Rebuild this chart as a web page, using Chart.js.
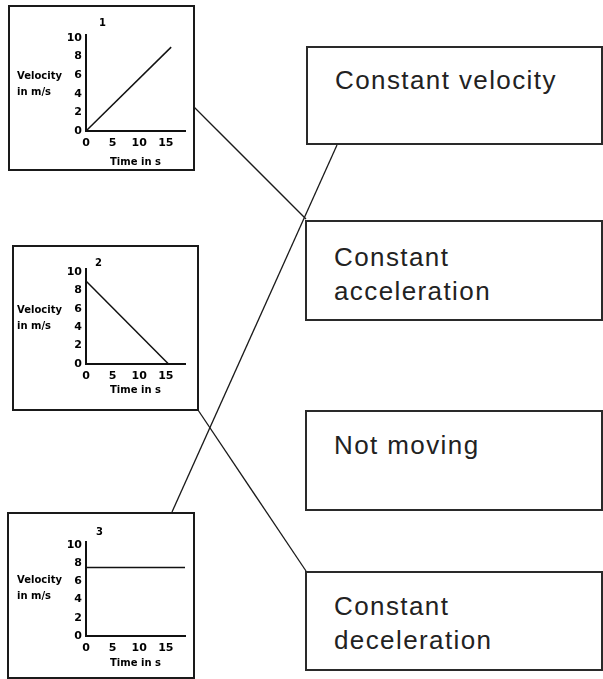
<!DOCTYPE html>
<html>
<head>
<meta charset="utf-8">
<script src="https://cdn.jsdelivr.net/npm/chart.js@4/dist/chart.umd.min.js"></script>
<style>
  body { margin: 0; background: #fff; }
  #page { position: relative; width: 603px; height: 679px; overflow: hidden; }
  .frame { position: absolute; border: 2px solid #1a1a1a; box-sizing: border-box; }
  .answer { position: absolute; border: 2px solid #2a2a2a; box-sizing: border-box; }
  .answer span {
    position: absolute; left: 27px; white-space: pre;
    font: 26px "Liberation Sans", Arial, sans-serif; letter-spacing: 1.4px;
    line-height: 34px; color: #222;
  }
  canvas { position: absolute; left: 0; }
  .small { position: absolute; font: bold 10px "DejaVu Sans", sans-serif; color: #000; line-height: 16px; white-space: pre; }
  svg { position: absolute; left: 0; top: 0; }
</style>
</head>
<body>
<div id="page">
  <div class="frame" style="left:8px;top:5px;width:187px;height:166px"></div>
  <div class="frame" style="left:12px;top:245px;width:187px;height:166px"></div>
  <div class="frame" style="left:7px;top:512px;width:188px;height:167px"></div>

  <div class="answer" style="left:306px;top:46px;width:297px;height:99px"><span id="a0" style="top:15px"></span></div>
  <div class="answer" style="left:305px;top:220px;width:298px;height:101px"><span id="a1" style="top:18px"></span></div>
  <div class="answer" style="left:305px;top:410px;width:298px;height:101px"><span id="a2" style="top:16px"></span></div>
  <div class="answer" style="left:305px;top:571px;width:298px;height:100px"><span id="a3" style="top:16px"></span></div>

  <canvas id="g0" width="200" height="165" style="top:5px"></canvas>
  <canvas id="g1" width="200" height="165" style="top:245px"></canvas>
  <canvas id="g2" width="200" height="165" style="top:512px"></canvas>

  <div class="small" style="left:99px;top:15px">1</div>
  <div class="small" style="left:95px;top:255px">2</div>
  <div class="small" style="left:96px;top:524px">3</div>
  <div class="small" style="left:17px;top:68px">Velocity
in m/s</div>
  <div class="small" style="left:17px;top:302px">Velocity
in m/s</div>
  <div class="small" style="left:17px;top:572px">Velocity
in m/s</div>

  <svg width="603" height="679">
    <g stroke="#1a1a1a" stroke-width="1.3" fill="none">
      <line x1="194" y1="107" x2="306" y2="219"/>
      <line x1="172" y1="512" x2="337" y2="145"/>
      <line x1="198" y1="410" x2="306" y2="571"/>
    </g>
  </svg>
</div>

<script>
// answer boxes on the right
const answerLabels = ['Constant velocity', 'Constant\nacceleration', 'Not moving', 'Constant\ndeceleration'];

// axis ticks shared by the three small graphs
const timeTicks = [0, 5, 10, 15];
const velocityTicks = [0, 2, 4, 6, 8, 10];

// graph 1
const time1 = [0, 16];
const velocity1 = [0, 9];
// graph 2
const time2 = [0, 15.5];
const velocity2 = [9, 0];
// graph 3
const time3 = [0, 18.6];
const velocity3 = [7.5, 7.5];

answerLabels.forEach((t, i) => { document.getElementById('a' + i).textContent = t; });

Chart.defaults.font.family = '"DejaVu Sans", sans-serif';
Chart.defaults.color = '#000';

function makeGraph(id, xs, ys, padTop, xHeight, titlePad) {
  const ctx = document.getElementById(id).getContext('2d');
  return new Chart(ctx, {
    type: 'line',
    data: {
      datasets: [{
        data: xs.map((x, i) => ({ x: x, y: ys[i] })),
        borderColor: '#111',
        borderWidth: 1.5,
        pointRadius: 0,
        tension: 0,
        clip: false
      }]
    },
    options: {
      responsive: false,
      animation: false,
      layout: { padding: { top: padTop, left: 0, right: 15, bottom: 0 } },
      plugins: { legend: { display: false }, tooltip: { enabled: false } },
      scales: {
        x: {
          type: 'linear', min: 0, max: 18.6,
          afterBuildTicks: s => { s.ticks = timeTicks.map(v => ({ value: v })); },
          afterFit: s => { s.height = xHeight; },
          ticks: { font: { size: 11, weight: 'bold' }, padding: 6, maxRotation: 0 },
          grid: { display: false, drawTicks: false },
          border: { color: '#111', width: 2 },
          title: { display: true, text: 'Time in s', font: { size: 10, weight: 'bold' }, padding: { top: 0, bottom: titlePad } }
        },
        y: {
          type: 'linear', min: 0, max: 10.3,
          afterBuildTicks: s => { s.ticks = velocityTicks.map(v => ({ value: v })); },
          afterFit: s => { s.width = 86; },
          ticks: { font: { size: 11, weight: 'bold' }, padding: 4 },
          grid: { display: false, drawTicks: false },
          border: { color: '#111', width: 2 }
        }
      }
    }
  });
}

makeGraph('g0', time1, velocity1, 30, 39, 2);
makeGraph('g1', time2, velocity2, 24, 46, 14);
makeGraph('g2', time3, velocity3, 30, 41, 8);
</script>
</body>
</html>
